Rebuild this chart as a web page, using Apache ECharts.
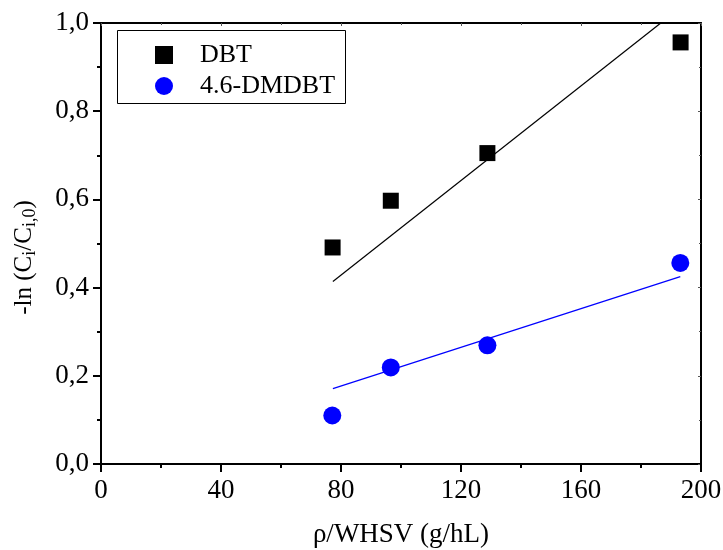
<!DOCTYPE html>
<html>
<head>
<meta charset="utf-8">
<script src="https://cdn.jsdelivr.net/npm/echarts@6/dist/echarts.min.js"></script>
<style>html,body{margin:0;padding:0;background:#fff}#c{width:723px;height:550px}</style>
</head>
<body>
<div id="c"></div>
<script>
// Data
const xDBT = [77.2, 96.6, 128.8, 193.2];
const yDBT = [0.491, 0.597, 0.705, 0.956];
const xDMDBT = [77.1, 96.6, 128.8, 193.1];
const yDMDBT = [0.110, 0.219, 0.269, 0.456];
// fitted lines (end points)
const fitDBTx = [77.3, 186.6];
const fitDBTy = [0.414, 1.0];
const fitDMDBTx = [77.3, 193.1];
const fitDMDBTy = [0.171, 0.425];
const seriesNames = ['DBT', '4.6-DMDBT'];
const xTitle = 'ρ/WHSV (g/hL)';

const pairs = (xs, ys) => xs.map((x, i) => [x, ys[i]]);
const FONT = 'Liberation Serif';
const chart = echarts.init(document.getElementById('c'), null, {renderer: 'canvas'});
const axisCommon = {
  axisLine: {show: true, onZero: false, lineStyle: {color: '#000', width: 2}},
  splitLine: {show: false}
};
chart.setOption({
  animation: false,
  backgroundColor: '#fff',
  grid: {left: 101, right: 22, top: 23, bottom: 86, containLabel: false, outerBoundsMode: 'none'},
  xAxis: [{
    type: 'value', min: 0, max: 200, interval: 40, position: 'bottom',
    ...axisCommon,
    axisTick: {show: true, inside: false, length: 8, lineStyle: {color: '#000', width: 2}},
    minorTick: {show: true, splitNumber: 2, length: 4, lineStyle: {color: '#000', width: 2}},
    axisLabel: {color: '#000', fontFamily: FONT, fontSize: 27, margin: 13},
    name: xTitle, nameLocation: 'middle', nameGap: 57,
    nameTextStyle: {color: '#000', fontFamily: FONT, fontSize: 27}
  }, {
    type: 'value', min: 0, max: 200, interval: 40, position: 'top',
    ...axisCommon,
    axisTick: {show: true, inside: true, length: 3, lineStyle: {color: '#555', width: 1}},
    minorTick: {show: true, splitNumber: 2, length: 2, lineStyle: {color: '#555', width: 1}},
    axisLabel: {show: false}
  }],
  yAxis: [{
    type: 'value', min: 0, max: 1, interval: 0.2, position: 'left',
    ...axisCommon,
    axisTick: {show: true, inside: false, length: 8, lineStyle: {color: '#000', width: 2}},
    minorTick: {show: true, splitNumber: 2, length: 4, lineStyle: {color: '#000', width: 2}},
    axisLabel: {color: '#000', fontFamily: FONT, fontSize: 27, margin: 12,
      formatter: v => v.toFixed(1).replace('.', ',')},
    name: '-ln (C{s|i}/C{s|i,0})', nameLocation: 'middle', nameGap: 62, nameRotate: 90,
    nameTextStyle: {color: '#000', fontFamily: FONT, fontSize: 25, padding: [0, 28, 0, 0],
      rich: {s: {fontFamily: FONT, fontSize: 18, color: '#000', padding: [11, 0, 0, 0]}}}
  }, {
    type: 'value', min: 0, max: 1, interval: 0.2, position: 'right',
    ...axisCommon,
    axisTick: {show: true, inside: true, length: 3, lineStyle: {color: '#555', width: 1}},
    minorTick: {show: true, splitNumber: 2, length: 2, lineStyle: {color: '#555', width: 1}},
    axisLabel: {show: false}
  }],
  legend: {
    orient: 'vertical', left: 150, top: 37,
    itemWidth: 18, itemHeight: 18, itemGap: 5,
    data: [{name: seriesNames[0], icon: 'rect'}, {name: seriesNames[1], icon: 'circle'}],
    textStyle: {color: '#000', fontFamily: FONT, fontSize: 26, lineHeight: 26, padding: [0, 0, 0, 22]}
  },
  graphic: [{
    type: 'rect', shape: {x: 117.5, y: 30.5, width: 228, height: 73},
    style: {fill: null, stroke: '#000', lineWidth: 1}, z: 100
  }],
  series: [{
    name: seriesNames[0], type: 'scatter', symbol: 'rect', symbolSize: 16,
    itemStyle: {color: '#000', opacity: 1}, data: pairs(xDBT, yDBT), z: 5
  }, {
    name: seriesNames[1], type: 'scatter', symbol: 'circle', symbolSize: 18,
    itemStyle: {color: '#0000ff', opacity: 1}, data: pairs(xDMDBT, yDMDBT), z: 5
  }, {
    name: 'fitDBT', type: 'line', showSymbol: false, symbol: 'none',
    lineStyle: {color: '#000', width: 1.2}, data: pairs(fitDBTx, fitDBTy), z: 3
  }, {
    name: 'fitDMDBT', type: 'line', showSymbol: false, symbol: 'none',
    lineStyle: {color: '#0000ff', width: 1.2}, data: pairs(fitDMDBTx, fitDMDBTy), z: 3
  }]
});
</script>
</body>
</html>
